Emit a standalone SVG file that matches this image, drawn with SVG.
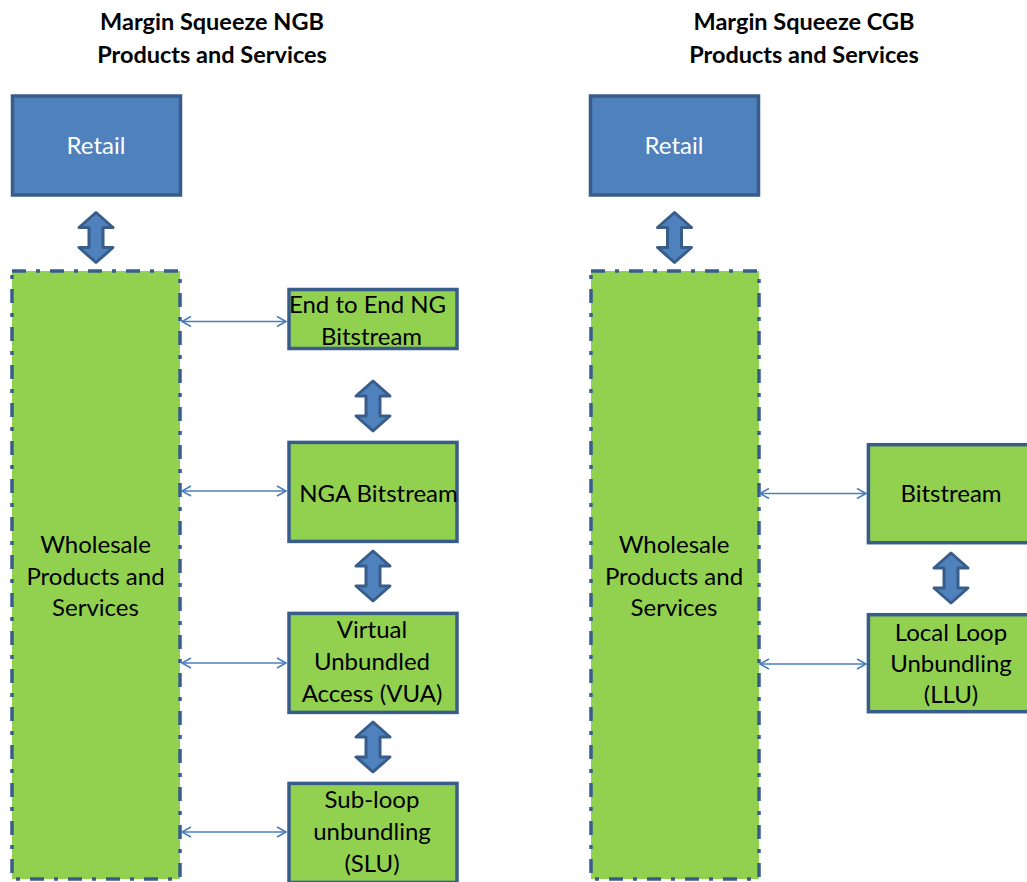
<svg xmlns="http://www.w3.org/2000/svg" width="1027" height="882" viewBox="0 0 1027 882">
  <defs>
    <style>
      .title { font-family: Lato, "Liberation Sans", sans-serif; font-weight: bold; font-size: 23.5px; fill: #000; text-anchor: middle; }
      .lbl { font-family: Lato, "Liberation Sans", sans-serif; font-size: 24px; fill: #000; text-anchor: middle; }
      .lbl-w { font-family: Lato, "Liberation Sans", sans-serif; font-size: 24px; fill: #fff; text-anchor: middle; }
      .retail { fill: #4f81bd; stroke: #385d8a; stroke-width: 3.5; }
      .box { fill: #92d050; stroke: #385d8a; stroke-width: 3.5; }
      .wholesale { fill: #92d050; stroke: #385d8a; stroke-width: 3.5; stroke-dasharray: 14 10 4 10; }
      .blk { fill: #4f81bd; stroke: #385d8a; stroke-width: 3; stroke-linejoin: round; }
      .link { stroke: #4a7ebb; stroke-width: 1.6; fill: none; marker-start: url(#chev); marker-end: url(#chev); }
    </style>
    <marker id="chev" markerUnits="userSpaceOnUse" markerWidth="12" markerHeight="12" refX="9" refY="5" orient="auto-start-reverse" overflow="visible">
      <path d="M0,0 L9,5 L0,10" fill="none" stroke="#4a7ebb" stroke-width="1.6"/>
    </marker>
    <!-- vertical double block arrow, centred on its own origin -->
    <path id="dblArrow" class="blk" d="M0,-25 L17,-10 L7,-10 L7,10 L17,10 L0,25 L-17,10 L-7,10 L-7,-10 L-17,-10 Z"/>
  </defs>

  <rect width="1027" height="882" fill="#fff"/>

  <!-- column headings -->
  <g id="title-ngb">
    <text class="title" x="212" y="30">Margin Squeeze NGB</text>
    <text class="title" x="212" y="63">Products and Services</text>
  </g>
  <g id="title-cgb">
    <text class="title" x="804" y="30">Margin Squeeze CGB</text>
    <text class="title" x="804" y="63">Products and Services</text>
  </g>

  <!-- NGB column -->
  <g id="retail-ngb">
    <rect class="retail" x="12.5" y="96" width="168" height="99"/>
    <text class="lbl-w" x="96" y="154">Retail</text>
  </g>
  <g id="wholesale-ngb">
    <rect class="wholesale" x="12" y="271" width="168" height="608"/>
    <text class="lbl" x="95.5" y="553">Wholesale</text>
    <text class="lbl" x="95.5" y="585">Products and</text>
    <text class="lbl" x="95.5" y="616">Services</text>
  </g>
  <g id="e2e-ng-bitstream">
    <rect class="box" x="289" y="289.5" width="168" height="59"/>
    <text class="lbl" x="367.5" y="313">End to End NG</text>
    <text class="lbl" x="371.5" y="345">Bitstream</text>
  </g>
  <g id="nga-bitstream">
    <rect class="box" x="289" y="442.4" width="168" height="99"/>
    <text class="lbl" x="378.5" y="501.5">NGA Bitstream</text>
  </g>
  <g id="vua">
    <rect class="box" x="289" y="613.4" width="168" height="99"/>
    <text class="lbl" x="372" y="637.5">Virtual</text>
    <text class="lbl" x="372" y="670">Unbundled</text>
    <text class="lbl" x="372" y="701.5">Access (VUA)</text>
  </g>
  <g id="slu">
    <rect class="box" x="289" y="783.4" width="168" height="99"/>
    <text class="lbl" x="372" y="808">Sub-loop</text>
    <text class="lbl" x="372" y="840">unbundling</text>
    <text class="lbl" x="372" y="872">(SLU)</text>
  </g>

  <!-- CGB column -->
  <g id="retail-cgb">
    <rect class="retail" x="590.5" y="96" width="168" height="99"/>
    <text class="lbl-w" x="674" y="154">Retail</text>
  </g>
  <g id="wholesale-cgb">
    <rect class="wholesale" x="591" y="271" width="168" height="608"/>
    <text class="lbl" x="674" y="553">Wholesale</text>
    <text class="lbl" x="674" y="585">Products and</text>
    <text class="lbl" x="674" y="616">Services</text>
  </g>
  <g id="bitstream">
    <rect class="box" x="868.4" y="444.7" width="168" height="98"/>
    <text class="lbl" x="951" y="501.5">Bitstream</text>
  </g>
  <g id="llu">
    <rect class="box" x="868.4" y="614.7" width="168" height="97"/>
    <text class="lbl" x="951" y="641">Local Loop</text>
    <text class="lbl" x="951" y="672">Unbundling</text>
    <text class="lbl" x="951" y="703">(LLU)</text>
  </g>

  <!-- connectors -->
  <g id="connectors">
    <use href="#dblArrow" x="96" y="237.5"/>
    <use href="#dblArrow" x="674.5" y="237.5"/>
    <use href="#dblArrow" x="373" y="406"/>
    <use href="#dblArrow" x="373" y="576"/>
    <use href="#dblArrow" x="373" y="747"/>
    <use href="#dblArrow" x="951" y="578"/>

    <line class="link" x1="182" y1="321.5" x2="286" y2="321.5"/>
    <line class="link" x1="182" y1="491" x2="286" y2="491"/>
    <line class="link" x1="182" y1="663" x2="286" y2="663"/>
    <line class="link" x1="182" y1="832" x2="286" y2="832"/>
    <line class="link" x1="760" y1="493.5" x2="866" y2="493.5"/>
    <line class="link" x1="760" y1="664" x2="866" y2="664"/>
  </g>
</svg>
